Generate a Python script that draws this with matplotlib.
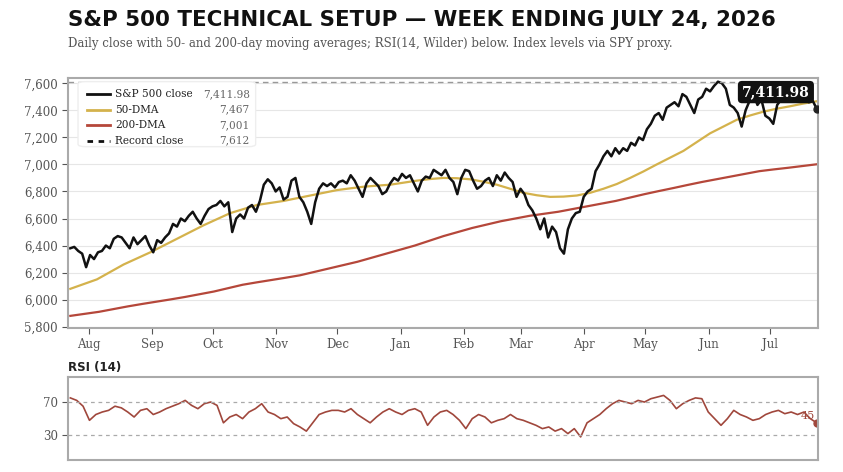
import numpy as np
import pandas as pd
import matplotlib
matplotlib.use("Agg")
import matplotlib.pyplot as plt
import matplotlib.dates as mdates
from matplotlib.patches import FancyBboxPatch

close = [6380, 6390, 6360, 6340, 6240, 6330, 6300, 6350, 6360, 6400, 6380, 6450, 6470, 6460, 6420, 6380, 6460, 6410,
         6440, 6470, 6400, 6350, 6440, 6420, 6460, 6490, 6560, 6540, 6600, 6580, 6620, 6650, 6600, 6560, 6620, 6670, 6690, 6700, 6730, 6690, 6720,
         6500, 6600, 6630, 6600, 6680, 6700, 6650, 6730, 6850, 6890, 6860, 6800, 6830, 6740, 6760, 6880, 6900, 6760,
         6720, 6650, 6560, 6720, 6820, 6860, 6840,
         6860, 6830, 6870, 6880, 6860, 6920, 6880, 6820, 6760, 6860, 6900, 6870, 6840, 6780, 6800, 6860, 6900, 6880, 6930, 6900, 6920, 6860,
         6800, 6880, 6910, 6900, 6960, 6940, 6920, 6960, 6900, 6870,
         6780, 6900, 6960, 6950, 6880, 6820, 6840, 6880, 6900, 6840, 6920, 6880, 6940,
         6900, 6870, 6760, 6820, 6780, 6700, 6660, 6600, 6520, 6600, 6460, 6540, 6500, 6380, 6340, 6520, 6600, 6640, 6650,
         6760, 6800, 6820, 6950, 7000, 7060, 7100, 7060, 7120, 7080, 7120, 7100, 7160, 7140, 7200, 7180,
         7260, 7300, 7360, 7380, 7330, 7420, 7440, 7460, 7430, 7520, 7500, 7440, 7380, 7480, 7500, 7560, 7540, 7580, 7612,
         7600, 7560, 7440, 7420, 7380, 7280, 7400, 7470, 7520, 7440, 7480, 7360, 7340, 7300, 7440,
         7480, 7500, 7520, 7500, 7480, 7520, 7500, 7460, 7470, 7411.98]

dma50 = [6080, 6115, 6150, 6205, 6260, 6305, 6350, 6400, 6450, 6500, 6550, 6595, 6640, 6670, 6700, 6715, 6730, 6750,
         6770, 6790, 6810, 6823, 6835, 6843, 6850, 6865, 6880, 6892, 6900, 6898, 6890, 6872, 6850,
         6820, 6790, 6772, 6760, 6762, 6770, 6790, 6820, 6855, 6900, 6948, 7000, 7050, 7100, 7165, 7230, 7280,
         7330, 7362, 7390, 7412, 7430, 7450, 7467]
dma200 = [5880, 5895, 5910, 5930, 5950, 5968, 5985, 6002, 6020, 6040, 6060, 6085, 6110, 6128, 6145, 6162, 6180,
          6205, 6230, 6255, 6280, 6310, 6340, 6370, 6400, 6435, 6470, 6500, 6530, 6555, 6580, 6600, 6620,
          6635, 6650, 6670, 6690, 6710, 6730, 6755, 6780, 6803, 6825, 6848, 6870, 6890, 6910, 6930, 6950,
          6963, 6975, 6988, 7001]

rsi = [75, 72, 65, 48, 55, 58, 60, 65, 63, 58, 52, 60, 62, 55, 58, 62, 65, 68, 72, 66, 62, 68, 70, 66, 45, 52, 55, 50,
       58, 62, 68, 58, 55, 50, 52, 44, 40, 35, 45, 55, 58, 60, 60, 58, 62, 55, 50, 45, 52, 58, 62, 58, 55, 60, 62, 58,
       42, 52, 58, 60, 55, 48, 38, 50, 55, 52, 45, 48, 50, 55, 50, 48, 45, 42, 38, 40, 35, 38, 32, 38, 28, 45, 50, 55,
       62, 68, 72, 70, 68, 72, 70, 74, 76, 78, 72, 62, 68, 72, 75, 74, 58, 50, 42, 50, 60, 55, 52, 48, 50, 55, 58, 60,
       56, 58, 55, 58, 50, 45]

record = 7612
yticks = [5800, 6000, 6200, 6400, 6600, 6800, 7000, 7200, 7400, 7600]

start = mdates.date2num(pd.Timestamp("2025-07-23"))
end = mdates.date2num(pd.Timestamp("2026-07-24"))
def span(n):
    return np.linspace(start, end, n)

serif = "DejaVu Serif"
fig = plt.figure(figsize=(8.43, 4.72), dpi=100)
ax = fig.add_axes([0.081, 0.305, 0.889, 0.53])
ax2 = fig.add_axes([0.081, 0.025, 0.889, 0.176])

c_close, c50, c200 = "#111111", "#d4b24c", "#b5473a"
ax.plot(span(len(dma200)), dma200, color=c200, lw=1.6)
ax.plot(span(len(dma50)), dma50, color=c50, lw=1.6)
ax.plot(span(len(close)), close, color=c_close, lw=1.8)
ax.axhline(record, color="#999999", lw=1, ls=(0, (4, 3)))
ax.plot([end], [close[-1]], "o", color="#222222", ms=5, zorder=5)
ax.text(mdates.date2num(pd.Timestamp("2026-07-04")), 7535, f"{close[-1]:,.2f}", color="white",
        fontsize=10, fontweight="bold", family=serif, ha="center", va="center",
        bbox=dict(boxstyle="round,pad=0.3", fc="#111111", ec="none"), zorder=6)

ax.set_xlim(mdates.date2num(pd.Timestamp("2025-07-22")), end + 0.5)
ax.set_ylim(5790, 7640)
ax.set_yticks(yticks)
ax.set_yticklabels([f"{v:,}" for v in yticks])
ax.grid(axis="y", color="#e6e6e6", lw=0.8)
ax.xaxis.set_major_locator(mdates.MonthLocator())
ax.xaxis.set_major_formatter(mdates.DateFormatter("%b"))

for a in (ax, ax2):
    for s in a.spines.values():
        s.set_color("#aaaaaa"); s.set_linewidth(1.5)
    a.tick_params(labelsize=8.5, colors="#555555", length=4)
    for lab in a.get_xticklabels() + a.get_yticklabels():
        lab.set_family(serif)
    a.set_axisbelow(True)

# manual legend
x0, x1, ytop, ybot = 0.013, 0.25, 0.985, 0.725
ax.add_patch(FancyBboxPatch((x0, ybot), x1 - x0, ytop - ybot, boxstyle="round,pad=0,rounding_size=0.01",
                            transform=ax.transAxes, fc="white", ec="#eeeeee", lw=1, zorder=7))
labels = ["S&P 500 close", "50-DMA", "200-DMA", "Record close"]
vals = [f"{close[-1]:,.2f}", f"{dma50[-1]:,}", f"{dma200[-1]:,}", f"{record:,}"]
styles = [(c_close, "-"), (c50, "-"), (c200, "-"), (c_close, (0, (2, 2)))]
for i, (lab, v, (col, ls)) in enumerate(zip(labels, vals, styles)):
    yy = 0.935 - i * 0.062
    ax.plot([0.025, 0.056], [yy, yy], transform=ax.transAxes, color=col, ls=ls, lw=2, zorder=8)
    ax.text(0.063, yy, lab, transform=ax.transAxes, fontsize=7.6, family=serif, color="#222222",
            va="center", zorder=8)
    ax.text(0.242, yy, v, transform=ax.transAxes, fontsize=7.6, family=serif, color="#666666",
            va="center", ha="right", zorder=8)

ax2.plot(span(len(rsi)), rsi, color="#a0473c", lw=1.2)
ax2.axhline(70, color="#aaaaaa", lw=0.9, ls=(0, (3, 3)))
ax2.axhline(30, color="#aaaaaa", lw=0.9, ls=(0, (3, 3)))
ax2.plot([end], [rsi[-1]], "o", color="#a0473c", ms=5)
ax2.text(end - 1, rsi[-1] + 8, f"{rsi[-1]}", color="#a0473c", fontsize=8, family=serif, ha="right", va="center")
ax2.set_xlim(ax.get_xlim())
ax2.set_ylim(0, 100)
ax2.set_yticks([30, 70])
ax2.set_xticks([])
for lab in ax2.get_yticklabels():
    lab.set_family(serif)
fig.text(0.081, 0.215, "RSI (14)", fontsize=8.5, fontweight="bold", color="#222222", family="Liberation Sans Narrow")

fig.text(0.081, 0.945, "S&P 500 TECHNICAL SETUP — WEEK ENDING JULY 24, 2026", fontsize=15.4, fontweight="bold",
         family="DejaVu Sans", color="#111111")
fig.text(0.081, 0.9, "Daily close with 50- and 200-day moving averages; RSI(14, Wilder) below. Index levels via SPY proxy.",
         fontsize=8.5, family=serif, color="#555555")

fig.savefig("out.png", dpi=100)
